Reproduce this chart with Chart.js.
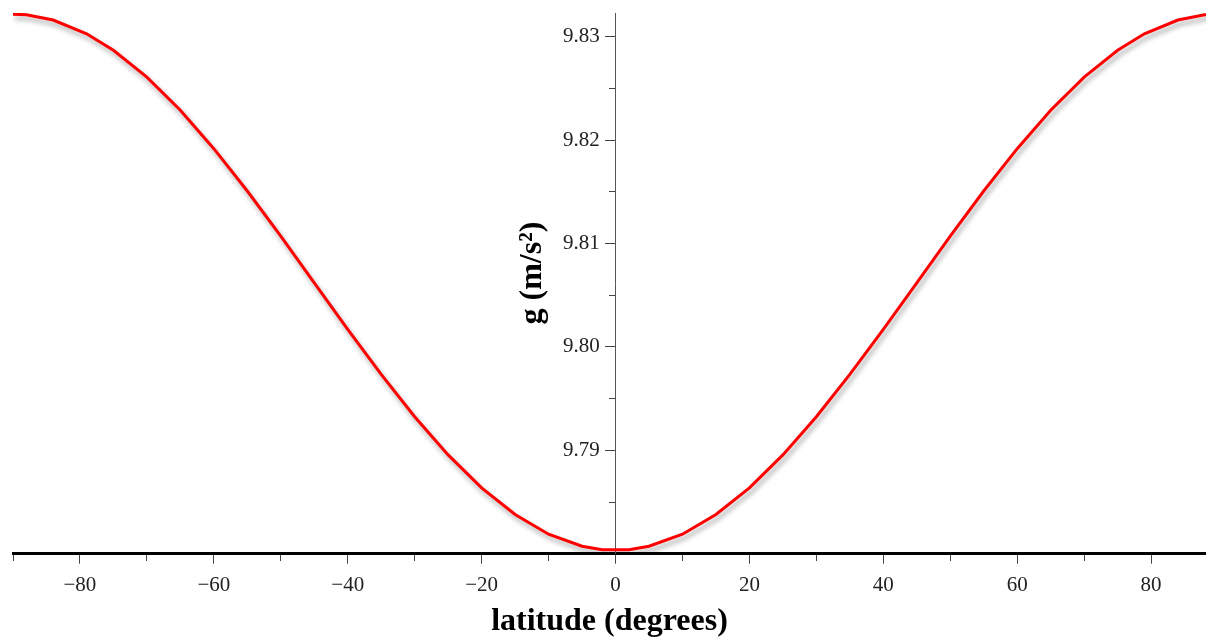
<!DOCTYPE html>
<html>
<head>
<meta charset="utf-8">
<script src="https://cdn.jsdelivr.net/npm/chart.js@4"></script>
<style>
  html, body { margin: 0; padding: 0; background: #fff; }
  #wrap { width: 1206px; height: 637px; }
</style>
</head>
<body>
<div id="wrap"><canvas id="chart" width="1206" height="637"></canvas></div>
<script>
// latitude in degrees, g in m/s^2
var latitude = [-90, -88, -84, -79, -75, -70, -65, -60, -55, -50, -45, -40, -35, -30, -25, -20, -15, -10, -5, -2,
  2, 5, 10, 15, 20, 25, 30, 35, 40, 45, 50, 55, 60, 65, 70, 75, 79, 84, 88, 90];
var gravity = [9.83219, 9.83213, 9.83162, 9.83029, 9.82870, 9.82610, 9.82289, 9.81918, 9.81508, 9.81071,
  9.80620, 9.80170, 9.79734, 9.79325, 9.78956, 9.78637, 9.78379, 9.78189, 9.78072, 9.78039,
  9.78039, 9.78072, 9.78189, 9.78379, 9.78637, 9.78956, 9.79325, 9.79734, 9.80170, 9.80620,
  9.81071, 9.81508, 9.81918, 9.82289, 9.82610, 9.82870, 9.83029, 9.83162, 9.83213, 9.83219];

var xMin = -90, xMax = 88.2;
var yMin = 9.78, yMax = 9.8323;
var xLabels = [-80, -60, -40, -20, 0, 20, 40, 60, 80];
var yLabels = [9.79, 9.80, 9.81, 9.82, 9.83];

var serif = '"Liberation Serif", "Times New Roman", serif';

function isXLabel(v) {
  return xLabels.indexOf(Math.round(v)) !== -1;
}
function isYLabel(v) {
  return yLabels.some(function (l) { return Math.abs(l - v) < 1e-6; });
}

var shadow = {
  id: 'lineShadow',
  beforeDatasetsDraw: function (chart) {
    var ctx = chart.ctx;
    ctx.save();
    ctx.shadowColor = 'rgba(0,0,0,0.35)';
    ctx.shadowBlur = 5;
    ctx.shadowOffsetX = 2;
    ctx.shadowOffsetY = 4;
  },
  afterDatasetsDraw: function (chart) {
    chart.ctx.restore();
  }
};

var yTitle = {
  id: 'yTitle',
  afterDraw: function (chart) {
    var ctx = chart.ctx;
    ctx.save();
    ctx.translate(533, 273);
    ctx.rotate(-Math.PI / 2);
    ctx.font = 'bold 32px ' + serif;
    ctx.fillStyle = '#000';
    ctx.textAlign = 'center';
    ctx.textBaseline = 'middle';
    ctx.fillText('g (m/s\u00b2)', 0, 0);
    ctx.restore();
  }
};

var points = latitude.map(function (x, i) { return { x: x, y: gravity[i] }; });

new Chart(document.getElementById('chart'), {
  type: 'line',
  data: {
    datasets: [{
      data: points,
      borderColor: '#ff0000',
      borderWidth: 3,
      pointRadius: 0,
      tension: 0,
      fill: false
    }]
  },
  options: {
    responsive: false,
    animation: false,
    events: [],
    layout: { padding: { left: 13, right: 0, top: 13, bottom: 0 } },
    plugins: { legend: { display: false }, tooltip: { enabled: false } },
    scales: {
      x: {
        type: 'linear',
        position: 'bottom',
        min: xMin,
        max: xMax,
        border: { display: true, color: '#000', width: 3 },
        grid: {
          display: true,
          drawOnChartArea: false,
          drawTicks: true,
          tickLength: 10,
          tickColor: '#444',
          tickWidth: 1,
          tickBorderDash: function (c) { return isXLabel(c.tick.value) ? [] : [6, 100]; }
        },
        ticks: {
          stepSize: 10,
          includeBounds: false,
          autoSkip: false,
          maxRotation: 0,
          padding: 9,
          color: '#222',
          font: { family: serif, size: 21 },
          callback: function (v) {
            if (!isXLabel(v)) return '';
            var r = Math.round(v);
            return r < 0 ? '\u2212' + Math.abs(r) : String(r);
          }
        },
        title: {
          display: true,
          text: 'latitude (degrees)',
          color: '#000',
          font: { family: serif, size: 32, weight: 'bold', lineHeight: 0.94 },
          padding: { top: 0, bottom: 0 }
        }
      },
      y: {
        type: 'linear',
        position: { x: 0 },
        min: yMin,
        max: yMax,
        border: { display: true, color: '#555', width: 1 },
        grid: {
          display: true,
          drawOnChartArea: false,
          drawTicks: true,
          tickLength: 10,
          tickColor: '#444',
          tickWidth: 1,
          tickBorderDash: function (c) { return isYLabel(c.tick.value) ? [] : [6, 100]; }
        },
        ticks: {
          stepSize: 0.005,
          includeBounds: false,
          autoSkip: false,
          padding: 0,
          color: '#222',
          font: { family: serif, size: 21 },
          // trailing spaces keep the right-aligned label clear of the centred axis
          callback: function (v) { return isYLabel(v) ? v.toFixed(2) + '   ' : ''; }
        }
      }
    }
  },
  plugins: [shadow, yTitle]
});
</script>
</body>
</html>
